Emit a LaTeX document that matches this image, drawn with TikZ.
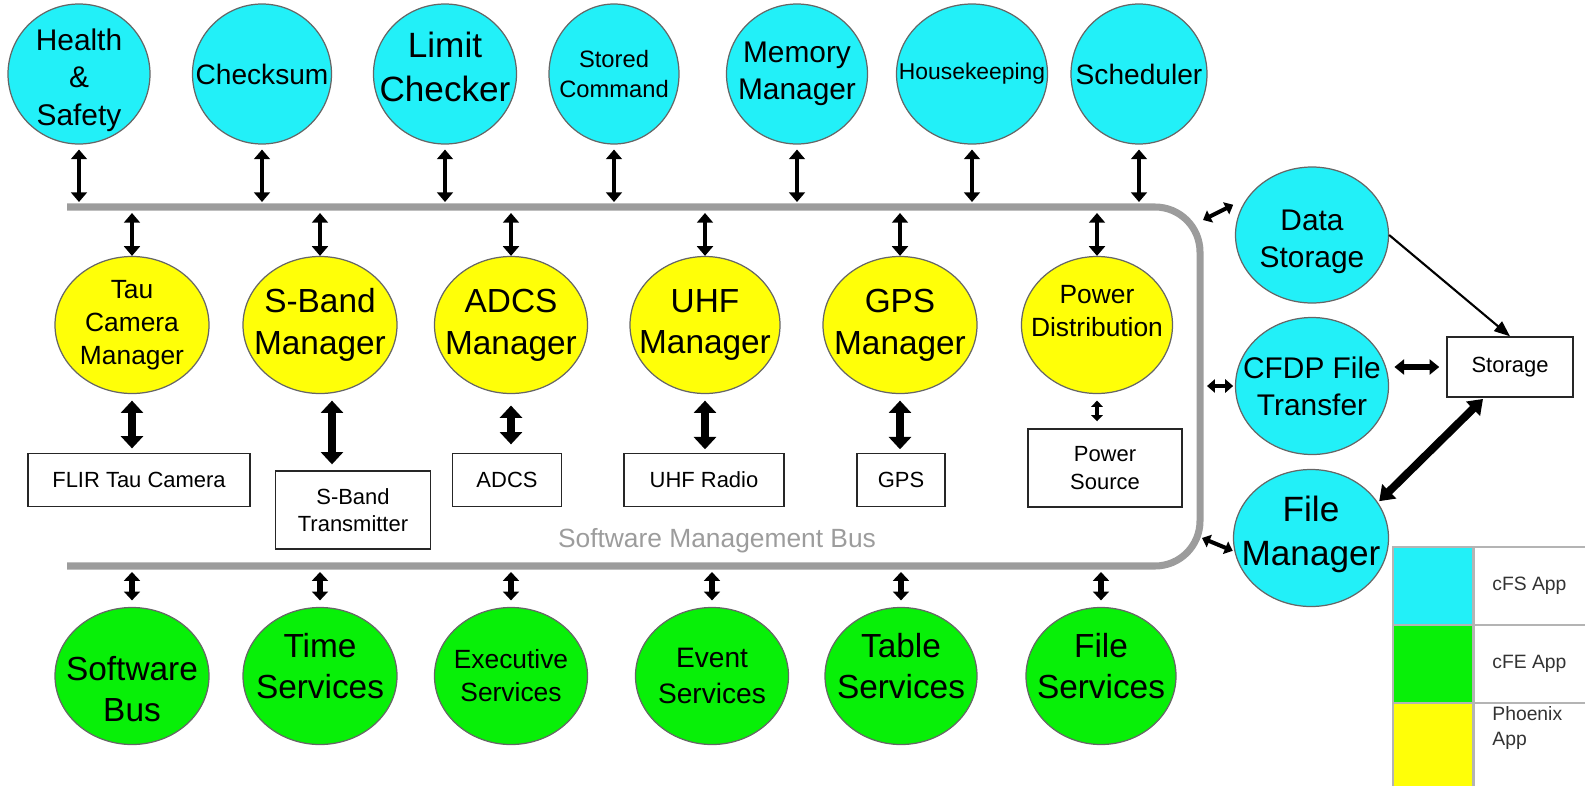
\documentclass[tikz,border=0pt]{standalone}
\usepackage{fontspec}
\setmainfont{Liberation Sans}
\usetikzlibrary{arrows.meta, shapes.geometric, positioning, calc}
\definecolor{cfscyan}{HTML}{22F0F8}
\definecolor{cfegreen}{HTML}{08F008}
\definecolor{phxyellow}{HTML}{FFFF08}
\definecolor{busgray}{HTML}{9C9C9C}
\definecolor{lgray}{HTML}{B4B4B4}
\newcommand{\fsz}[1]{\fontsize{#1}{\fpeval{1.25*#1}}\selectfont}

\begin{document}
\begin{tikzpicture}[x=0.02cm, y=-0.02cm,
    wh/.style 2 args={minimum width=#1*0.02cm, minimum height=#2*0.02cm},
    txt/.style={align=center, font=\fsz{#1}},
    bub/.style={ellipse, draw=black!60, line width=0.7pt, inner sep=0pt},
    cfs/.style={bub, fill=cfscyan},
    cfe/.style={bub, fill=cfegreen},
    phx/.style={bub, fill=phxyellow},
    hw/.style={rectangle, draw=black!85, line width=0.8pt, fill=white,
               align=center, inner sep=0pt, font=\fsz{12.5}},
    bus/.style={draw=busgray, line width=4pt, rounded corners=0.9cm},
    bustxt/.style={font=\fsz{15}, text=busgray},
    busarr/.style={{Triangle[width=9pt,length=5.5pt]}-{Triangle[width=9pt,length=5.5pt]}, line width=2.6pt},
    smlarr/.style={{Triangle[width=9pt,length=5pt]}-{Triangle[width=9pt,length=5pt]}, line width=3pt},
    hwarr/.style={{Triangle[width=12.5pt,length=7pt]}-{Triangle[width=12.5pt,length=7pt]}, line width=4.5pt},
    pwarr/.style={{Triangle[width=6.5pt,length=3.5pt]}-{Triangle[width=6.5pt,length=3.5pt]}, line width=2pt},
    medarr/.style={{Triangle[width=7.5pt,length=4.5pt]}-{Triangle[width=7.5pt,length=4.5pt]}, line width=2.3pt},
    cfarr/.style={{Triangle[width=8.5pt,length=5.5pt]}-{Triangle[width=8.5pt,length=5.5pt]}, line width=3pt},
    bigarr/.style={{Triangle[width=11pt,length=8pt]}-{Triangle[width=11pt,length=8pt]}, line width=4.5pt},
    thinarr/.style={-{Triangle[width=7pt,length=9pt]}, line width=1.2pt},
    lkey/.style={rectangle, draw=lgray, line width=0.6pt, inner sep=0pt, wh={80}{78}},
    lcell/.style={lkey, wh={140}{78}, anchor=west},
    ltxt/.style={anchor=west, align=left, font=\fsz{11}, text=black!80, inner sep=0pt}
  ]
  \useasboundingbox (0,0) rectangle (1585,785);

  % management bus
  \draw[bus] (67,207) -- (1200,207) -- (1200,566) -- (67,566);
  \coordinate (topup) at (0,202);
  \coordinate (topdn) at (0,213);
  \coordinate (botdn) at (0,572);
  \coordinate (busds) at (1203,220);
  \coordinate (buscf) at (1207,386);
  \coordinate (busfm) at (1202,538);
  \node[bustxt] (smb) at (717,541) {Software Management Bus};

  % cFS apps
  \node[cfs, wh={142}{140}, label={[txt=17, yshift=-0.12cm]center:{Health\\\&\\Safety}}] (hs) at (79,74) {};
  \node[cfs, wh={139}{140}, label={[txt=16]center:Checksum}] (cs) at (262,74) {};
  \node[cfs, wh={143}{140}, label={[txt=20, yshift=0.14cm]center:{Limit\\Checker}}] (lc) at (445,74) {};
  \node[cfs, wh={130}{140}, label={[txt=13.5]center:{Stored\\Command}}] (sc) at (614,74) {};
  \node[cfs, wh={141}{140}, label={[txt=17]center:{Memory\\Manager}}] (mm) at (797,74) {};
  \node[cfs, wh={151}{140}, label={[txt=13]center:Housekeeping}] (hk) at (972,74) {};
  \node[cfs, wh={136}{140}, label={[txt=16]center:Scheduler}] (sch) at (1139,74) {};

  % Phoenix apps
  \node[phx, wh={154}{137}, label={[txt=15]center:{Tau\\Camera\\Manager}}] (tcm) at (132,325) {};
  \node[phx, wh={154}{137}, label={[txt=19]center:{S-Band\\Manager}}] (sbm) at (320,325) {};
  \node[phx, wh={153}{137}, label={[txt=19]center:{ADCS\\Manager}}] (adm) at (511,325) {};
  \node[phx, wh={150}{137}, label={[txt=19]center:{UHF\\Manager}}] (uhm) at (705,325) {};
  \node[phx, wh={154}{137}, label={[txt=19]center:{GPS\\Manager}}] (gpm) at (900,325) {};
  \node[phx, wh={151}{137}, label={[txt=15, yshift=0.28cm]center:{Power\\Distribution}}] (pdm) at (1097,325) {};

  % hardware
  \node[hw, wh={222}{53}] (ftc) at (139,480) {FLIR Tau Camera};
  \node[hw, wh={155}{78}] (sbt) at (353,510) {S-Band\\Transmitter};
  \node[hw, wh={109}{53}] (adc) at (507,480) {ADCS};
  \node[hw, wh={160}{53}] (uhr) at (704,480) {UHF Radio};
  \node[hw, wh={88}{53}]  (gps) at (901,480) {GPS};
  \node[hw, wh={154}{78}] (pws) at (1105,468) {Power\\Source};

  % cFE apps
  \node[cfe, wh={154}{137}, label={[txt=19, yshift=-0.26cm]center:{Software\\Bus}}] (swb) at (132,676) {};
  \node[cfe, wh={154}{137}, label={[txt=19, yshift=0.2cm]center:{Time\\Services}}] (tim) at (320,676) {};
  \node[cfe, wh={153}{137}, label={[txt=15]center:{Executive\\Services}}] (exs) at (511,676) {};
  \node[cfe, wh={153}{137}, label={[txt=16]center:{Event\\Services}}] (evs) at (712,676) {};
  \node[cfe, wh={152}{137}, label={[txt=19, yshift=0.2cm]center:{Table\\Services}}] (tbs) at (901,676) {};
  \node[cfe, wh={150}{137}, label={[txt=19, yshift=0.2cm]center:{File\\Services}}] (fls) at (1101,676) {};

  % storage side
  \node[cfs, wh={153}{136}, label={[txt=17, yshift=-0.14cm]center:{Data\\Storage}}] (ds) at (1312,235) {};
  \node[cfs, wh={153}{137}, label={[txt=17]center:{CFDP File\\Transfer}}] (cfdp) at (1312,386) {};
  \node[cfs, wh={155}{137}, label={[txt=20, yshift=0.08cm]center:{File\\Manager}}] (fm) at (1311,538) {};
  \node[hw, wh={126}{60}] (sto) at (1510,367) {Storage};

  % legend
  \node[lkey, fill=cfscyan] (kcfs) at (1433,586) {};
  \node[lkey, fill=cfegreen] (kcfe) at (1433,664) {};
  \node[lkey, fill=phxyellow, wh={80}{90}] (kphx) at (1433,748) {};
  \node[lcell] (ccfs) at (kcfs.east) {};
  \node[lcell] (ccfe) at (kcfe.east) {};
  \node[lcell, wh={140}{90}] (cphx) at (kphx.east) {};
  \node[ltxt] (tcfs) at (1492,586) {cFS App};
  \node[ltxt] (tcfe) at (1492,664) {cFE App};
  \node[ltxt] (tphx) at (1492,728) {Phoenix\\App};

  % arrows to the bus
  \foreach \n in {hs,cs,lc,sc,mm,hk,sch}
    \draw[busarr, shorten <=2.8pt] (\n.south) -- (\n.south |- topup);
  \foreach \n in {tcm,sbm,adm,uhm,gpm,pdm}
    \draw[busarr] (\n.north |- topdn) -- (\n.north);
  \foreach \n in {swb,tim,exs,evs,tbs,fls}
    \draw[smlarr, shorten >=3.7pt] (\n.north |- botdn) -- (\n.north);

  % managers to hardware
  \foreach \c/\b/\s/\e in {tcm/ftc/3.7/2.5, adm/adc/6.5/4.8, uhm/uhr/3.7/2, gpm/gps/3.7/2}
    \draw[hwarr, shorten <=\s pt, shorten >=\e pt] (\c.south) -- (\c.south |- \b.north);
  \draw[hwarr, shorten <=3.7pt, shorten >=3.4pt]
    ($(sbm.south)+(12,0)$) -- ($(sbm.south |- sbt.north)+(12,0)$);
  \draw[pwarr, shorten <=3.7pt, shorten >=4pt] (pdm.south) -- (pdm.south |- pws.north);

  % storage side arrows
  \draw[medarr, shorten >=9pt] (busds) -- (ds.150);
  \draw[medarr, shorten >=1pt] (buscf) -- (cfdp.west);
  \draw[medarr, shorten >=1pt] (busfm) -- (fm.190);
  \draw[thinarr] (ds.east) -- (sto.north);
  \draw[cfarr, shorten <=3pt, shorten >=4pt] (sto.west -| cfdp.east) -- (sto.west);
  \draw[bigarr, shorten <=1pt, shorten >=1pt] (sto.230) -- (fm.28);
\end{tikzpicture}
\end{document}
